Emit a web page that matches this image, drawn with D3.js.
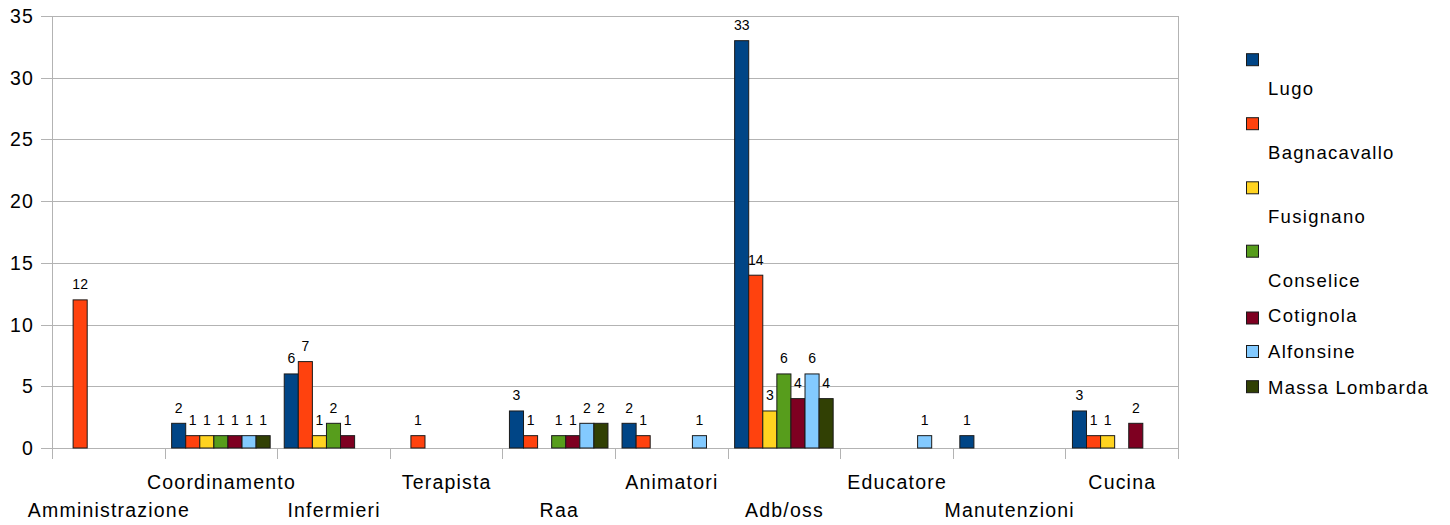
<!DOCTYPE html>
<html>
<head>
<meta charset="utf-8">
<script src="https://cdn.jsdelivr.net/npm/d3@7"></script>
<style>
  html, body { margin: 0; padding: 0; background: #fff; }
  svg { display: block; }
  text { font-family: "Liberation Sans", Arial, sans-serif; fill: #000; }
</style>
</head>
<body>
<svg id="chart" width="1450" height="525"></svg>
<script>
// Staff by role and site
const categories = ["Amministrazione", "Coordinamento", "Infermieri", "Terapista", "Raa",
                    "Animatori", "Adb/oss", "Educatore", "Manutenzioni", "Cucina"];
const series = ["Lugo", "Bagnacavallo", "Fusignano", "Conselice", "Cotignola", "Alfonsine", "Massa Lombarda"];
const colors = ["#004586", "#ff420e", "#ffd320", "#579d1c", "#7e0021", "#83caff", "#314004"];

const lugo         = [0, 2, 6, 0, 3, 2, 33, 0, 1, 3];
const bagnacavallo = [12, 1, 7, 1, 1, 1, 14, 0, 0, 1];
const fusignano    = [0, 1, 1, 0, 0, 0, 3, 0, 0, 1];
const conselice    = [0, 1, 2, 0, 1, 0, 6, 0, 0, 0];
const cotignola    = [0, 1, 1, 0, 1, 0, 4, 0, 0, 2];
const alfonsine    = [0, 1, 0, 0, 2, 1, 6, 1, 0, 0];
const massaLomb    = [0, 1, 0, 0, 2, 0, 4, 0, 0, 0];
const values = [lugo, bagnacavallo, fusignano, conselice, cotignola, alfonsine, massaLomb];

const yTicks = [0, 5, 10, 15, 20, 25, 30, 35];

const svg = d3.select("#chart");
const plot = { left: 52, right: 1178, top: 16, bottom: 448 };
const grid = "#b3b3b3";

const x = d3.scaleBand().domain(categories).range([plot.left, plot.right]).padding(0);
const xs = d3.scaleBand().domain(series).range([0, x.bandwidth()]).paddingInner(0).paddingOuter(0.5);
const y = d3.scaleLinear().domain([0, 35]).range([plot.bottom, plot.top]);

// horizontal gridlines with short ticks left of the axis
svg.append("g").selectAll("line").data(yTicks).join("line")
  .attr("x1", plot.left - 11).attr("x2", plot.right)
  .attr("y1", d => Math.round(y(d)) + 0.5).attr("y2", d => Math.round(y(d)) + 0.5)
  .attr("stroke", grid).attr("stroke-width", 1);

// y tick labels
svg.append("g").selectAll("text").data(yTicks).join("text")
  .attr("x", 34).attr("y", d => y(d) + 7)
  .attr("text-anchor", "end")
  .style("font-size", "19.5px").style("letter-spacing", "1.2px")
  .text(d => d);

// vertical axis line and right wall edge
svg.append("line").attr("x1", plot.left + 0.5).attr("x2", plot.left + 0.5)
  .attr("y1", plot.top).attr("y2", plot.bottom + 11).attr("stroke", grid);
svg.append("line").attr("x1", plot.right + 0.5).attr("x2", plot.right + 0.5)
  .attr("y1", plot.top).attr("y2", plot.bottom + 11).attr("stroke", grid);

// category boundary ticks below the baseline
const bounds = categories.map(c => x(c)).concat([plot.right]);
svg.append("g").selectAll("line").data(bounds).join("line")
  .attr("x1", d => Math.round(d) + 0.5).attr("x2", d => Math.round(d) + 0.5)
  .attr("y1", plot.bottom).attr("y2", plot.bottom + 11)
  .attr("stroke", grid);

// bars
const cells = [];
categories.forEach((c, i) => series.forEach((s, j) => {
  cells.push({ cat: c, ser: s, v: values[j][i], color: colors[j] });
}));
const shown = cells.filter(d => d.v > 0);

svg.append("g").selectAll("rect").data(shown).join("rect")
  .attr("x", d => x(d.cat) + xs(d.ser))
  .attr("y", d => y(d.v))
  .attr("width", xs.bandwidth())
  .attr("height", d => y(0) - y(d.v))
  .attr("fill", d => d.color)
  .attr("stroke", "#1a1a1a").attr("stroke-width", 1);

// value labels
svg.append("g").selectAll("text").data(shown).join("text")
  .attr("x", d => x(d.cat) + xs(d.ser) + xs.bandwidth() / 2)
  .attr("y", d => y(d.v) - 10.5)
  .attr("text-anchor", "middle")
  .style("font-size", "14px")
  .text(d => d.v);

// category labels, staggered on two rows
svg.append("g").selectAll("text").data(categories).join("text")
  .attr("x", d => x(d) + x.bandwidth() / 2 + 0.6)
  .attr("y", (d, i) => i % 2 === 0 ? 516.7 : 489.3)
  .attr("text-anchor", "middle")
  .style("font-size", "19.5px").style("letter-spacing", "1.2px")
  .text(d => d);

// legend
const legendRows = [
  { sq: 59.7, base: 95 },
  { sq: 123.7, base: 159.3 },
  { sq: 187.8, base: 223.3 },
  { sq: 251.2, base: 286.7 },
  { sq: 318, base: 322.3 },
  { sq: 351.5, base: 357.7 },
  { sq: 386.7, base: 394.3 }
];
const leg = svg.append("g");
leg.selectAll("rect").data(series).join("rect")
  .attr("x", 1246.5).attr("y", (d, i) => legendRows[i].sq - 6)
  .attr("width", 12).attr("height", 12)
  .attr("fill", (d, i) => colors[i])
  .attr("stroke", "#1a1a1a").attr("stroke-width", 1);
leg.selectAll("text").data(series).join("text")
  .attr("x", 1268).attr("y", (d, i) => legendRows[i].base)
  .style("font-size", "18.5px").style("letter-spacing", "1.3px")
  .text(d => d);
</script>
</body>
</html>
